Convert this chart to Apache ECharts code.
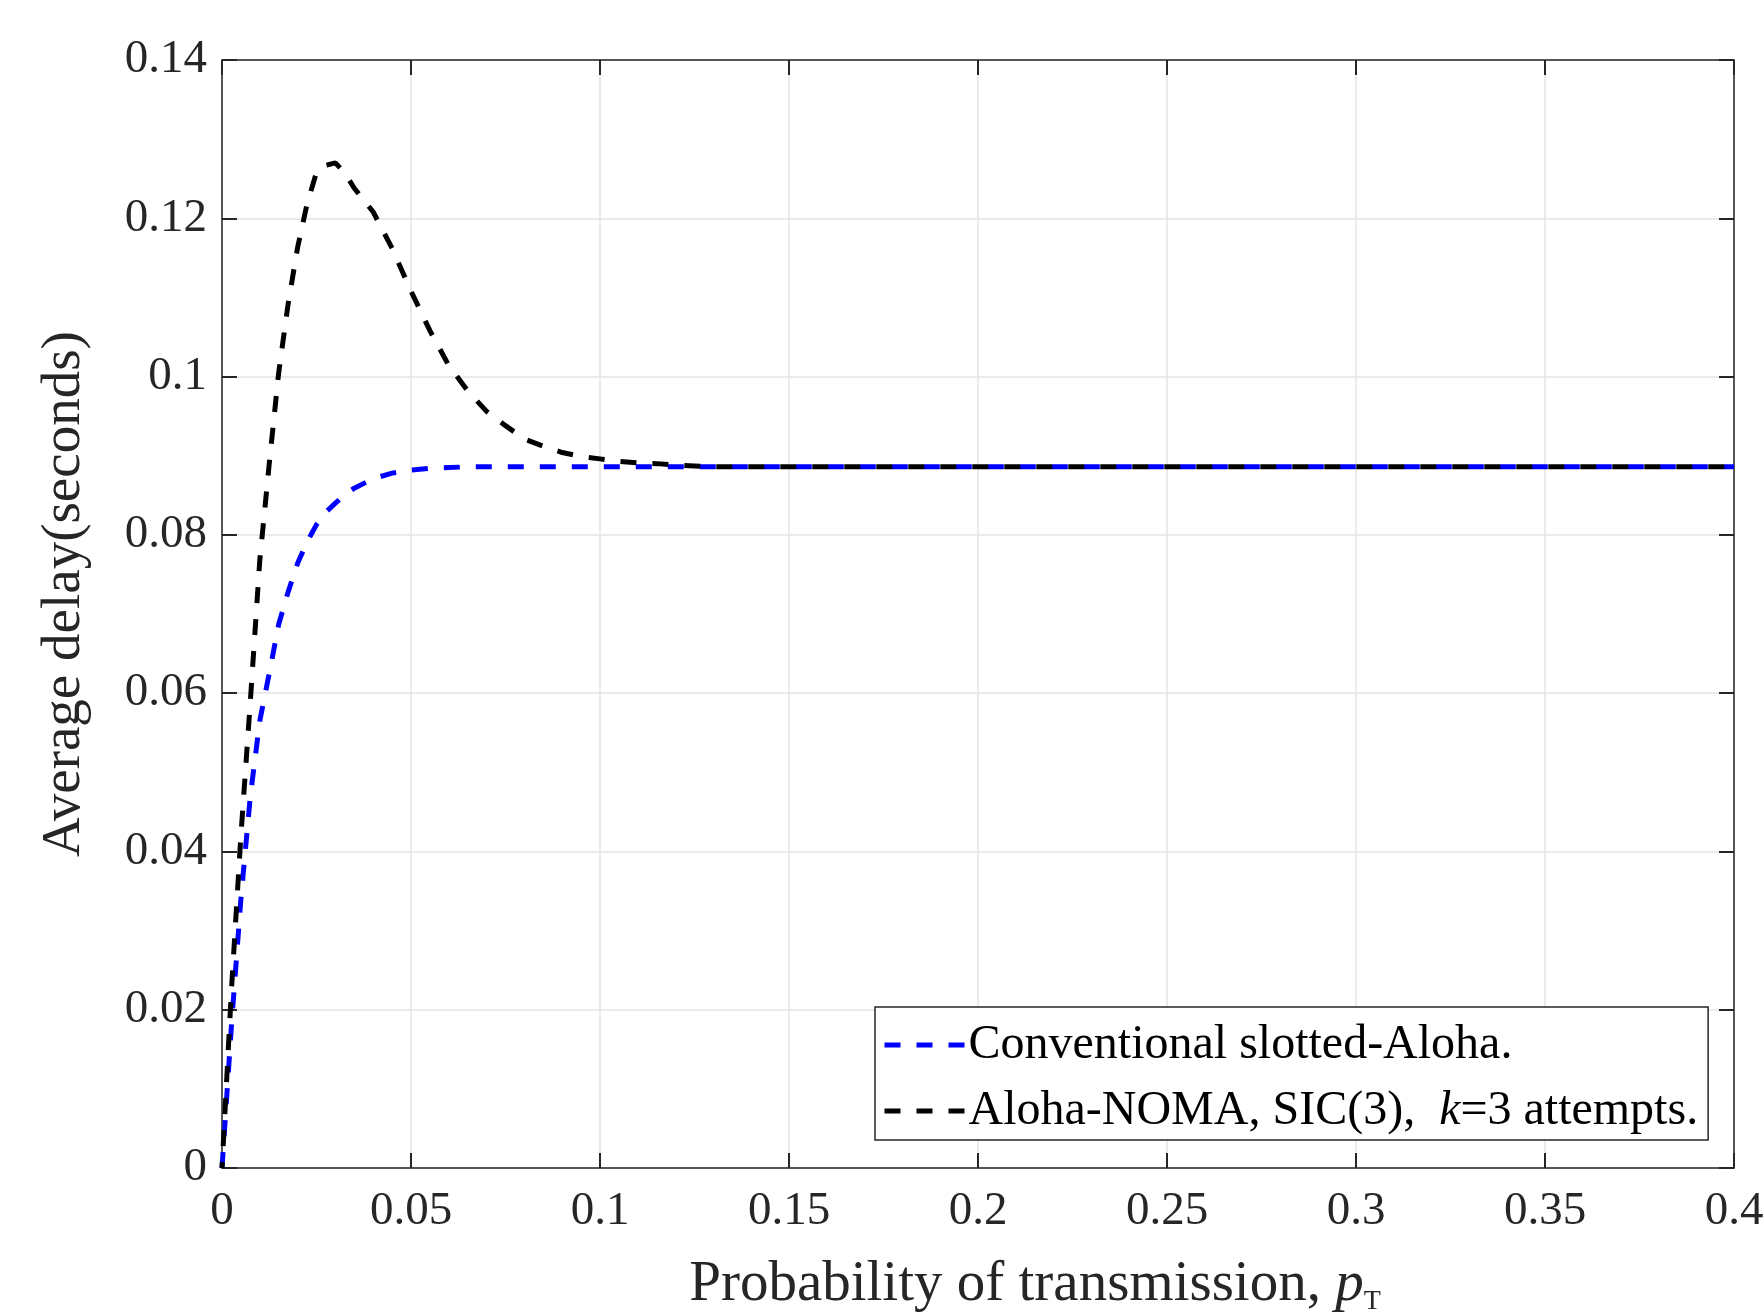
<!doctype html>
<html>
    <head>
        <meta charset="utf-8">
        <style>
            html, body { margin: 0; padding: 0; background: #fff; }
            #main { width: 1764px; height: 1314px; }
        </style>
    </head>
    <body>
        <div id="main"></div>
        <script src="https://cdn.jsdelivr.net/npm/echarts@6/dist/echarts.min.js"></script>
        <script>
            // probability of transmission p_T
            var pT = [0, 0.0025, 0.005, 0.0075, 0.01, 0.0125, 0.015, 0.0175, 0.02, 0.0225,
                0.025, 0.0275, 0.03, 0.0325, 0.035, 0.04, 0.045, 0.05, 0.055, 0.06,
                0.065, 0.07, 0.075, 0.08, 0.085, 0.09, 0.095, 0.1, 0.105, 0.11,
                0.115, 0.12, 0.125, 0.13, 0.15, 0.2, 0.25, 0.3, 0.35, 0.4];
            // average delay (seconds)
            var conventional = [0, 0.018, 0.034, 0.047, 0.0565, 0.0625, 0.0687, 0.0728, 0.0764, 0.0791,
                0.0813, 0.0829, 0.084, 0.0851, 0.0859, 0.0871, 0.0878, 0.0882, 0.0884, 0.0885,
                0.0886, 0.0886, 0.0886, 0.0886, 0.0886, 0.0886, 0.0886, 0.0886, 0.0886, 0.0886,
                0.0886, 0.0886, 0.0886, 0.0886, 0.0886, 0.0886, 0.0886, 0.0886, 0.0886, 0.0886];
            var alohaNoma = [0, 0.0225, 0.042, 0.059, 0.0768, 0.089, 0.1005, 0.1092, 0.1163, 0.1218,
                0.1258, 0.1267, 0.127, 0.1257, 0.1238, 0.1208, 0.1162, 0.1108, 0.1058, 0.1014,
                0.0982, 0.0956, 0.0938, 0.0921, 0.0912, 0.0904, 0.0899, 0.0896, 0.0893, 0.0891,
                0.089, 0.0888, 0.0887, 0.0886, 0.0886, 0.0886, 0.0886, 0.0886, 0.0886, 0.0886];
            var seriesNames = ['Conventional slotted-Aloha.', 'Aloha-NOMA, SIC(3),  k=3 attempts.'];
            var legendLabels = ['Conventional slotted-Aloha.', 'Aloha-NOMA, SIC(3),  {i|k}=3 attempts.'];

            function pairs(ys) {
                var out = [];
                for (var i = 0; i < pT.length; i++) {
                    out.push([pT[i], ys[i]]);
                }
                return out;
            }

            var font = 'Liberation Serif';
            var ink = '#262626';
            var dash = [16, 16];

            var chart = echarts.init(document.getElementById('main'));

            var frameAxis = {
                axisLine: { show: true, onZero: false, lineStyle: { color: ink, width: 1.5 } },
                axisTick: { show: true, inside: true, length: 15, lineStyle: { color: ink, width: 2 } },
                axisLabel: { show: false },
                splitLine: { show: false }
            };

            chart.setOption({
                animation: false,
                backgroundColor: '#fff',
                grid: {
                    left: 222,
                    right: 30,
                    top: 60,
                    bottom: 146,
                    outerBoundsMode: 'none',
                    containLabel: false
                },
                legend: {
                    orient: 'vertical',
                    left: 875,
                    top: 1007,
                    data: seriesNames,
                    backgroundColor: '#fff',
                    borderColor: ink,
                    borderWidth: 1.5,
                    borderRadius: 0,
                    padding: [14, 10, 5, 7],
                    itemGap: 18,
                    itemWidth: 81,
                    itemHeight: 20,
                    itemStyle: { opacity: 0 },
                    lineStyle: { width: 5, type: dash, dashOffset: 0 },
                    formatter: function (name) {
                        return legendLabels[seriesNames.indexOf(name)];
                    },
                    textStyle: {
                        fontFamily: font,
                        fontSize: 48,
                        lineHeight: 48,
                        color: '#000',
                        padding: [0, 0, 0, -2],
                        rich: {
                            i: { fontFamily: font, fontSize: 48, fontStyle: 'italic', color: '#000' }
                        }
                    }
                },
                xAxis: [{
                    type: 'value',
                    min: 0,
                    max: 0.4,
                    interval: 0.05,
                    name: 'Probability of transmission, {i|p}{sub|T}',
                    nameLocation: 'middle',
                    nameGap: 86,
                    nameTextStyle: {
                        fontFamily: font,
                        fontSize: 57,
                        color: ink,
                        padding: [0, 0, 0, 114],
                        rich: {
                            i: { fontFamily: font, fontSize: 57, fontStyle: 'italic', color: ink },
                            sub: { fontFamily: font, fontSize: 28, color: ink, padding: [34, 0, 0, 0] }
                        }
                    },
                    axisLine: { show: true, onZero: false, lineStyle: { color: ink, width: 1.5 } },
                    axisTick: { show: true, inside: true, length: 15, lineStyle: { color: ink, width: 2 } },
                    axisLabel: {
                        margin: 20,
                        fontFamily: font,
                        fontSize: 47,
                        color: ink
                    },
                    splitLine: { show: true, lineStyle: { color: '#e3e3e3', width: 1.5 } }
                }, Object.assign({
                    type: 'value',
                    position: 'top',
                    min: 0,
                    max: 0.4,
                    interval: 0.05
                }, frameAxis)],
                yAxis: [{
                    type: 'value',
                    min: 0,
                    max: 0.14,
                    interval: 0.02,
                    name: 'Average delay(seconds)',
                    nameLocation: 'middle',
                    nameGap: 130,
                    nameTextStyle: {
                        fontFamily: font,
                        fontSize: 55,
                        color: ink,
                        padding: [0, 0, 0, 40]
                    },
                    axisLine: { show: true, onZero: false, lineStyle: { color: ink, width: 1.5 } },
                    axisTick: { show: true, inside: true, length: 15, lineStyle: { color: ink, width: 2 } },
                    axisLabel: {
                        margin: 15,
                        fontFamily: font,
                        fontSize: 47,
                        color: ink
                    },
                    splitLine: { show: true, lineStyle: { color: '#e3e3e3', width: 1.5 } }
                }, Object.assign({
                    type: 'value',
                    position: 'right',
                    min: 0,
                    max: 0.14,
                    interval: 0.02
                }, frameAxis)],
                series: [{
                    name: seriesNames[0],
                    type: 'line',
                    data: pairs(conventional),
                    symbol: 'none',
                    lineStyle: { color: '#0000ff', width: 5, type: dash },
                    itemStyle: { color: '#0000ff' },
                    z: 3
                }, {
                    name: seriesNames[1],
                    type: 'line',
                    data: pairs(alohaNoma),
                    symbol: 'none',
                    lineStyle: { color: '#000000', width: 5, type: dash, dashOffset: 10 },
                    itemStyle: { color: '#000000' },
                    z: 4
                }]
            });

            window.onresize = chart.resize;
        </script>
    </body>
</html>
